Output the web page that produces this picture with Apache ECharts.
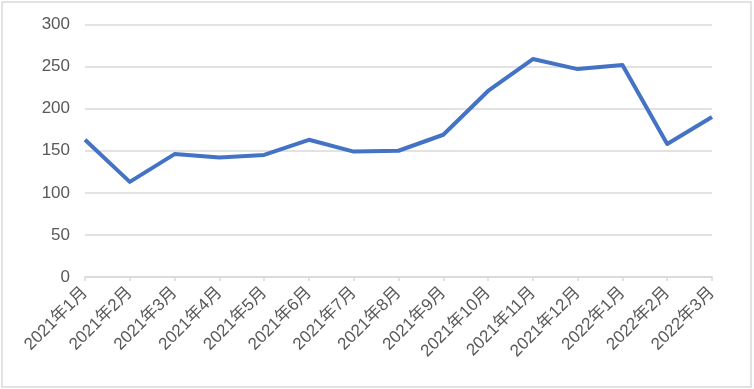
<!DOCTYPE html>
<html lang="zh">
<head>
    <meta charset="utf-8">
    <title>月度走势</title>
    <script src="https://cdn.jsdelivr.net/npm/echarts@6/dist/echarts.min.js"></script>
    <style>
        html, body { margin: 0; padding: 0; background: #fff; }
        #main { width: 754px; height: 389px; }
    </style>
</head>
<body>
<div id="main"></div>
<script type="text/javascript">
    // 横轴月份
    var months = ['2021年1月', '2021年2月', '2021年3月', '2021年4月', '2021年5月',
        '2021年6月', '2021年7月', '2021年8月', '2021年9月', '2021年10月',
        '2021年11月', '2021年12月', '2022年1月', '2022年2月', '2022年3月'];
    // 数值
    var values = [163, 113, 146, 142, 145, 163, 149, 150, 169, 221, 259, 247, 252, 158, 190];
    // 纵轴刻度
    var yMin = 0, yMax = 300, yStep = 50;

    var labelFont = '"Liberation Sans", "Noto Sans CJK SC", sans-serif';

    var myChart = echarts.init(document.getElementById('main'));

    var option = {
        animation: false,
        backgroundColor: '#fff',
        graphic: [{
            type: 'rect',
            shape: { x: 2, y: 2, width: 749, height: 385 },
            style: { fill: 'none', stroke: '#D9D9D9', lineWidth: 1.5 },
            silent: true
        }],
        grid: {
            left: 85,
            right: 42,
            top: 24.5,
            bottom: 112,
            containLabel: false
        },
        xAxis: {
            type: 'category',
            boundaryGap: false,
            data: months,
            axisLine: { lineStyle: { color: '#D9D9D9', width: 1.5 } },
            axisTick: { show: true, length: 4, alignWithLabel: true, lineStyle: { color: '#D9D9D9', width: 1.5 } },
            axisLabel: {
                rotate: 45,
                interval: 0,
                color: '#595959',
                fontSize: 17,
                fontFamily: labelFont,
                margin: 13
            },
            splitLine: { show: false }
        },
        yAxis: {
            type: 'value',
            min: yMin,
            max: yMax,
            interval: yStep,
            axisLine: { show: false },
            axisTick: { show: false },
            axisLabel: {
                color: '#595959',
                fontSize: 17,
                fontFamily: labelFont,
                margin: 15
            },
            splitLine: { lineStyle: { color: '#D9D9D9', width: 1.5 } }
        },
        series: [{
            name: '数值',
            type: 'line',
            data: values,
            symbol: 'none',
            lineStyle: { color: '#4472C4', width: 4, join: 'round' },
            itemStyle: { color: '#4472C4' }
        }]
    };

    myChart.setOption(option);
</script>
</body>
</html>
